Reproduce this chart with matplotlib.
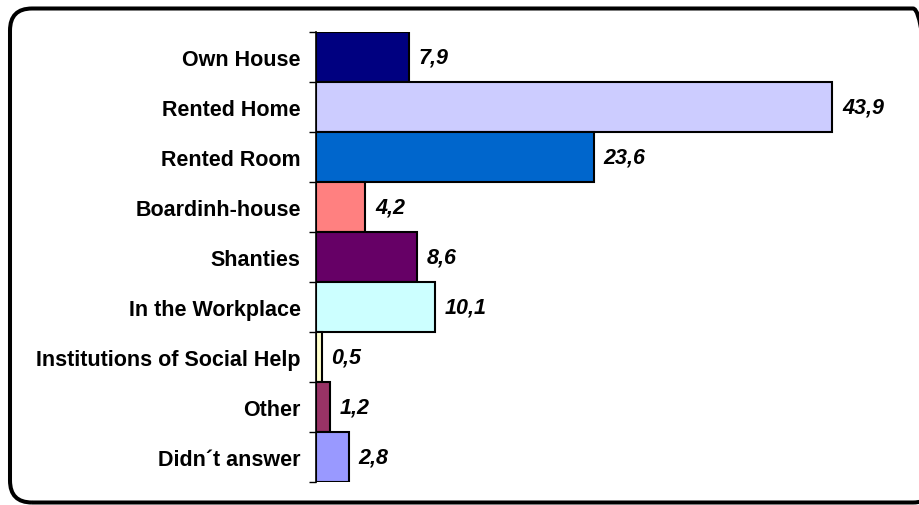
import matplotlib.pyplot as plt
from matplotlib.patches import FancyBboxPatch
from matplotlib.transforms import IdentityTransform

plt.rcParams['font.family'] = ['Liberation Sans', 'DejaVu Sans']

categories = ["Own House", "Rented Home", "Rented Room", "Boardinh-house", "Shanties",
              "In the Workplace", "Institutions of Social Help", "Other", "Didn\u00b4t answer"]
values = [7.9, 43.9, 23.6, 4.2, 8.6, 10.1, 0.5, 1.2, 2.8]
colors = ["#000080", "#CCCCFF", "#0066CC", "#FF8080", "#660066",
          "#CCFFFF", "#FFFFCC", "#993366", "#9999FF"]

fig = plt.figure(figsize=(9.19, 5.06), dpi=100)
ax = fig.add_axes([316 / 919, 1 - 483 / 506, 600 / 919, 450 / 506])

pos = list(range(len(categories)))
ax.barh(pos, values, height=1.0, color=colors, edgecolor="black", linewidth=1.5)

for p, v in zip(pos, values):
    ax.annotate(f"{v:.1f}".replace(".", ","), (v, p), xytext=(7, 0), textcoords="offset points",
                va="center", ha="left", fontsize=15.5, fontweight="bold", fontstyle="italic")

ax.set_xlim(0, 51)
ax.set_ylim(len(categories) - 0.5, -0.5)
ax.set_yticks(pos)
ax.set_yticklabels(categories, fontsize=15.5, fontweight="bold")
ax.set_yticks([p - 0.5 for p in pos] + [len(categories) - 0.5], minor=True)
ax.tick_params(axis="y", which="major", length=0, pad=11)
ax.tick_params(axis="y", which="minor", length=5, width=1, direction="out")
ax.set_xticks([])
for s in ["top", "right", "bottom"]:
    ax.spines[s].set_visible(False)
ax.spines["left"].set_linewidth(1.2)

# rounded frame around the chart (right edge runs off the canvas)
frame = FancyBboxPatch((10, 2.5), 925, 494, boxstyle="round,pad=0,rounding_size=22",
                       transform=IdentityTransform(), facecolor="none", edgecolor="black",
                       linewidth=2.9, clip_on=False)
fig.patches.append(frame)

fig.savefig("out.png", dpi=100)
